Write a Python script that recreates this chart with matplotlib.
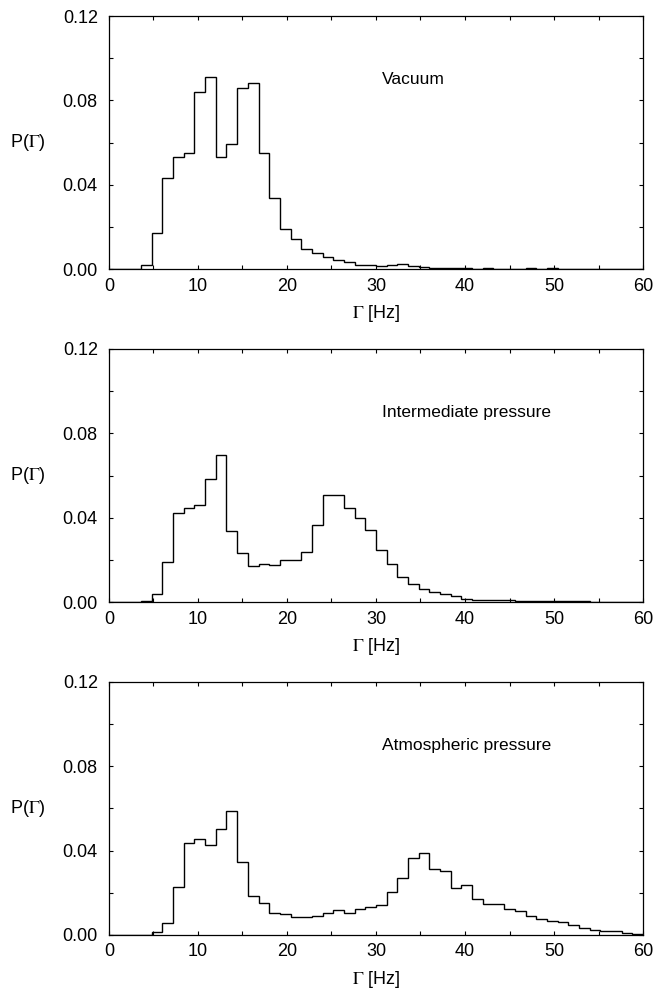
import numpy as np
import matplotlib
matplotlib.use("Agg")
import matplotlib.pyplot as plt

plt.rcParams['font.family'] = ['Liberation Sans', 'DejaVu Sans']
plt.rcParams['mathtext.fontset'] = 'stix'

# histogram bins: width 1.2 Hz from 0 to 60
bin_width = 1.2
n_bins = 50

vacuum = [0, 0, 0, 0.0021, 0.0174, 0.0431, 0.0532, 0.0553, 0.0840, 0.0909,
          0.0532, 0.0594, 0.0857, 0.0883, 0.0553, 0.0339, 0.0189, 0.0145, 0.0096, 0.0076,
          0.0056, 0.0043, 0.0034, 0.0019, 0.0019, 0.0016, 0.0019, 0.0024, 0.0016, 0.0009,
          0.0008, 0.0006, 0.0005, 0.0005, 0.0003, 0.0008, 0.0003, 0.0003, 0.0002, 0.0006,
          0.0003, 0.0006, 0.0002, 0.0002, 0.0002, 0.0002, 0.0002, 0.0003, 0.0003, 0.0002]

intermediate = [0, 0, 0, 0.0006, 0.0038, 0.0193, 0.0421, 0.0446, 0.0460, 0.0582,
                0.0696, 0.0340, 0.0232, 0.0171, 0.0182, 0.0177, 0.0198, 0.0198, 0.0239, 0.0364,
                0.0508, 0.0508, 0.0446, 0.0398, 0.0343, 0.0248, 0.0180, 0.0119, 0.0087, 0.0062,
                0.0051, 0.0040, 0.0032, 0.0016, 0.0013, 0.0011, 0.0009, 0.0013, 0.0006, 0.0008,
                0.0008, 0.0008, 0.0006, 0.0005, 0.0005, 0.0003, 0.0003, 0.0003, 0.0002, 0.0002]

atmospheric = [0, 0, 0, 0, 0.0014, 0.0058, 0.0229, 0.0434, 0.0453, 0.0426,
               0.0500, 0.0589, 0.0347, 0.0186, 0.0153, 0.0103, 0.0098, 0.0085, 0.0084, 0.0090,
               0.0103, 0.0116, 0.0104, 0.0125, 0.0133, 0.0142, 0.0205, 0.0272, 0.0365, 0.0388,
               0.0313, 0.0302, 0.0221, 0.0238, 0.0170, 0.0145, 0.0145, 0.0125, 0.0115, 0.0092,
               0.0074, 0.0066, 0.0062, 0.0046, 0.0035, 0.0024, 0.0019, 0.0019, 0.0008, 0.0003]

panels = [(vacuum, "Vacuum"),
          (intermediate, "Intermediate pressure"),
          (atmospheric, "Atmospheric pressure")]

edges = np.arange(n_bins + 1) * bin_width

fig = plt.figure(figsize=(6.53, 9.94), dpi=100)
bottoms = [0.7291, 0.3941, 0.0594]

for (vals, title), b in zip(panels, bottoms):
    ax = fig.add_axes([0.1669, b, 0.8178, 0.2548])
    ax.stairs(vals, edges, color='black', linewidth=1.0, baseline=None)
    ax.set_xlim(0, 60)
    ax.set_ylim(0, 0.12)
    ax.set_xticks(np.arange(0, 61, 10))
    ax.set_xticks(np.arange(0, 61, 5), minor=True)
    ax.set_yticks(np.arange(0, 0.121, 0.04))
    ax.set_yticks(np.arange(0, 0.121, 0.02), minor=True)
    ax.set_yticklabels(["%.2f" % v for v in np.arange(0, 0.121, 0.04)])
    ax.tick_params(which='both', direction='in', top=True, right=True,
                   length=3, width=0.8, labelsize=13)
    ax.tick_params(axis='y', pad=8)
    ax.tick_params(axis='x', pad=6)
    for s in ax.spines.values():
        s.set_linewidth(0.9)
    ax.text(30.7, 0.09, title, fontsize=12.5, va='center', ha='left')
    ax.text(-0.185, 0.5, r"P($\Gamma$)", transform=ax.transAxes,
            fontsize=13, va='center', ha='left')
    ax.text(0.5, -0.175, r"$\Gamma$ [Hz]", transform=ax.transAxes,
            fontsize=13, va='center', ha='center')

fig.savefig("out.png", dpi=100)
